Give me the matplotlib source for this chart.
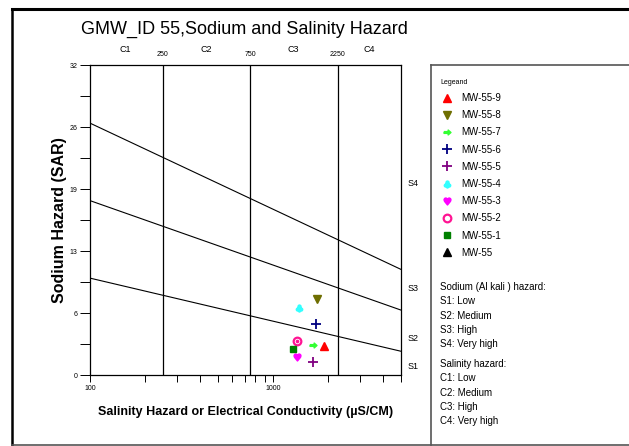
import numpy as np
import matplotlib
matplotlib.use("Agg")
import matplotlib.pyplot as plt
from matplotlib.lines import Line2D
from matplotlib.path import Path

plt.rcParams['font.family'] = ['Liberation Sans', 'DejaVu Sans']

# === Data ===
wells = ["MW-55-9", "MW-55-8", "MW-55-7", "MW-55-6", "MW-55-5",
         "MW-55-4", "MW-55-3", "MW-55-2", "MW-55-1", "MW-55"]
ec = [1905, 1738, 1660, 1723, 1652, 1385, 1355, 1360, 1293, np.nan]
sar = [3.0, 7.8, 3.1, 5.3, 1.3, 6.9, 1.9, 3.5, 2.7, np.nan]

# sodium hazard boundary lines (SAR at EC = 100 and EC = 5000)
ec_ends = [100, 5000]
s1_s2 = [10.0, 2.45]
s2_s3 = [18.0, 6.7]
s3_s4 = [26.0, 10.9]

# salinity class boundaries
c_bounds = [250, 750, 2250]
c_labels = ["C1", "C2", "C3", "C4"]
c_label_pos = [156, 434, 1288, 3367]
s_labels = ["S1", "S2", "S3", "S4"]
s_label_pos = [0.9, 3.8, 8.9, 19.8]

y_ticks = [0, 6.4, 12.8, 19.2, 25.6, 32]
y_tick_labels = ["0", "6", "13", "19", "26", "32"]

# marker styles
arrow = Path([(-1, 0.25), (0.2, 0.25), (0.2, 0.7), (1, 0), (0.2, -0.7),
              (0.2, -0.25), (-1, -0.25), (-1, 0.25)])
styles = [
    dict(marker="^", color="#FF0000", ms=5.5),
    dict(marker="v", color="#6E6E00", ms=5.5),
    dict(marker=arrow, color="#33FF33", ms=5),
    dict(marker="+", color="#000080", ms=6.5, mew=1.3),
    dict(marker="+", color="#800080", ms=6.5, mew=1.3),
    dict(marker=r"$\clubsuit$", color="#33FFFF", ms=5),
    dict(marker=r"$♥$", color="#FF00FF", ms=5),
    dict(marker="o", color="#FF1493", ms=5.5, mfc="none", mew=1.6),
    dict(marker="s", color="#008000", ms=4),
    dict(marker="^", color="#000000", ms=5.5),
]

fig = plt.figure(figsize=(6.29, 4.46), dpi=100)
ax = fig.add_axes([90 / 629, 71 / 446, 311 / 629, 310 / 446])

ax.set_xscale("log")
ax.set_xlim(100, 5000)
ax.set_ylim(0, 32)

for sline in (s1_s2, s2_s3, s3_s4):
    ax.plot(ec_ends, sline, color="black", lw=0.8)
for cb in c_bounds:
    ax.axvline(cb, color="black", lw=0.9)

for x, y, st in zip(ec, sar, styles):
    ax.plot([x], [y], linestyle="none", clip_on=False, **st)
# centre dot of the target marker
ax.plot([ec[7]], [sar[7]], "o", color="#FF1493", ms=1.6)

ax.set_yticks(y_ticks)
ax.set_yticklabels(y_tick_labels)
ax.set_yticks(np.arange(3.2, 32, 6.4), minor=True)
ax.set_xticks([100, 1000])
ax.set_xticklabels(["100", "1000"])
ax.tick_params(axis="both", which="both", direction="out", length=7,
               width=0.7, labelsize=5, pad=2)
ax.tick_params(axis="x", which="both", length=5)
ax.tick_params(axis="x", which="minor", labelbottom=False)

for sp in ax.spines.values():
    sp.set_linewidth(0.9)

ax.set_ylabel("Sodium Hazard (SAR)", fontsize=11.5, fontweight="bold",
              labelpad=2)
ax.set_xlabel("Salinity Hazard or Electrical Conductivity (µS/CM)",
              fontsize=9, fontweight="bold", labelpad=10)

# class labels above the axes
for cl, cx in zip(c_labels, c_label_pos):
    ax.text(cx, 33.1, cl, ha="center", va="bottom", fontsize=6.5)
for cb in c_bounds:
    ax.text(cb, 32.7, str(cb), ha="center", va="bottom", fontsize=5)
for sl, sy in zip(s_labels, s_label_pos):
    ax.text(1.04, sy / 32, sl, transform=ax.transAxes, ha="center",
            va="center", fontsize=6.5)

fig.text(244 / 629, 1 - 29 / 446, "GMW_ID 55,Sodium and Salinity Hazard",
         ha="center", va="center", fontsize=13)

# outer frame and legend box
frame = dict(transform=fig.transFigure, clip_on=False)
fig.add_artist(Line2D([12 / 629, 12 / 629], [1 - 445 / 446, 1 - 9 / 446],
                      color="black", lw=1.8, **frame))
fig.add_artist(Line2D([12 / 629, 1], [1 - 9 / 446, 1 - 9 / 446],
                      color="black", lw=2.2, **frame))
fig.add_artist(Line2D([12 / 629, 1], [1 - 445 / 446, 1 - 445 / 446],
                      color="#555555", lw=1.2, **frame))
fig.add_artist(Line2D([431 / 629, 431 / 629], [1 - 445 / 446, 1 - 65 / 446],
                      color="#555555", lw=1.2, **frame))
fig.add_artist(Line2D([431 / 629, 1], [1 - 65 / 446, 1 - 65 / 446],
                      color="#555555", lw=1.2, **frame))

handles = [Line2D([], [], linestyle="none", **st) for st in styles]
leg = fig.legend(handles, wells, loc="upper left",
                 bbox_to_anchor=(434 / 629, 1 - 72 / 446), frameon=False,
                 fontsize=7, labelspacing=0.74, handlelength=1.2,
                 handletextpad=0.9, title="Legeand",
                 title_fontproperties={"size": 5}, alignment="left",
                 borderpad=0.2)

hazard_lines = ["Sodium (Al kali ) hazard:", "S1: Low", "S2: Medium",
                "S3: High", "S4: Very high"]
salinity_lines = ["Salinity hazard:", "C1: Low", "C2: Medium", "C3: High",
                  "C4: Very high"]
for i, t in enumerate(hazard_lines):
    fig.text(440 / 629, 1 - (287 + i * 14.3) / 446, t, fontsize=7,
             va="center", ha="left")
for i, t in enumerate(salinity_lines):
    fig.text(440 / 629, 1 - (364 + i * 14.3) / 446, t, fontsize=7,
             va="center", ha="left")

fig.savefig("out.png", dpi=100, facecolor="white")
